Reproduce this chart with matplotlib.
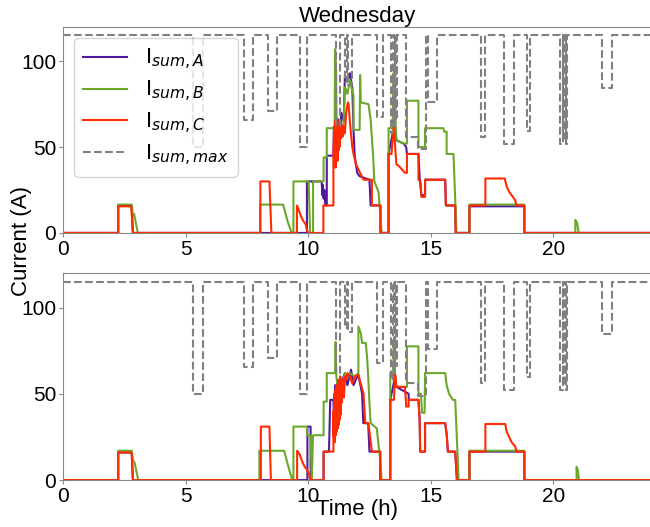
import matplotlib
matplotlib.use('Agg')
import matplotlib.pyplot as plt

plt.rcParams['font.family'] = ['Liberation Sans', 'DejaVu Sans']
FONT = 16

# ── Data (time in h, current in A) ────────────────────────────────────────────
# top panel
top_a_t = [0, 2.25, 2.25, 2.8, 2.85, 9.95, 9.95, 10.55, 10.58, 10.6, 10.63, 10.66, 10.7, 10.76, 10.76,
           11.03, 11.05, 11.1, 11.15, 11.2, 11.25, 11.3, 11.35, 11.45, 11.5, 11.6, 11.7, 11.8, 11.85,
           11.9, 12.0, 12.1, 12.5, 12.55, 12.95, 12.95, 13.28, 13.28, 13.45, 13.55, 13.6, 13.9, 14.0,
           14.03, 14.5, 14.55, 14.62, 14.77, 14.77, 15.59, 15.62, 16.0, 16.02, 16.58, 16.58, 18.82,
           18.82, 24]
top_a_v = [0, 0, 16, 16, 0, 0, 30, 30, 22, 28, 20, 25, 16, 16, 45,
           45, 62, 55, 68, 50, 66, 55, 70, 65, 92, 88, 93, 85, 60,
           45, 35, 33, 31, 16, 16, 0, 0, 46, 58, 60, 54, 52, 50,
           46, 46, 32, 22, 22, 31, 31, 16, 16, 0, 0, 15.5, 15.5,
           0, 0]

top_b_t = [0, 2.25, 2.25, 2.8, 2.85, 2.9, 3.05, 8.04, 8.04, 8.98, 9.1, 9.2, 9.33, 9.4, 9.4, 10.02,
           10.08, 10.2, 10.2, 10.63, 10.63, 10.76, 10.76, 11.08, 11.1, 11.14, 11.16, 11.44, 11.5,
           11.6, 11.71, 11.78, 11.85, 11.85, 12.1, 12.12, 12.15, 12.46, 12.55, 12.65, 12.7, 12.87,
           13.0, 13.28, 13.28, 13.45, 13.47, 13.55, 13.6, 13.9, 14.03, 14.03, 14.5, 14.5, 14.77,
           14.77, 15.52, 15.55, 15.65, 15.65, 15.93, 16.05, 16.58, 16.58, 18.82, 18.82, 20.9, 20.9,
           20.97, 21.04, 24]
top_b_v = [0, 0, 16.5, 16.5, 10, 11, 0, 0, 16.5, 16.5, 10, 5, 0, 0, 30, 30,
           0, 0, 30, 30, 44, 44, 61, 61, 107, 95, 61, 61, 85,
           81, 89, 84, 80, 60, 60, 92, 76, 75, 66, 45, 30, 24,
           0, 0, 61, 61, 93, 70, 54, 52, 52, 77, 77, 50, 50,
           61, 61, 59, 59, 46, 46, 0, 0, 16.5, 16.5, 0, 0, 7.5,
           6, 0, 0]

top_c_t = [0, 2.25, 2.25, 2.78, 2.85, 8.05, 8.05, 8.42, 8.5, 9.54, 9.54, 9.6, 9.7, 9.8, 9.9, 9.95,
           10.0, 10.62, 10.62, 11.03, 11.03, 11.06, 11.08, 11.1, 11.12, 11.14, 11.16, 11.18, 11.2,
           11.22, 11.24, 11.26, 11.28, 11.3, 11.33, 11.36, 11.4, 11.45, 11.5, 11.55, 11.62, 11.65,
           11.7, 11.8, 11.85, 11.95, 12.05, 12.26, 12.6, 12.6, 12.95, 12.95, 13.28, 13.28, 13.4,
           13.45, 13.5, 13.55, 13.6, 13.7, 13.95, 14.03, 14.03, 14.5, 14.5, 14.58, 14.62, 14.77,
           14.77, 15.59, 15.62, 16.0, 16.02, 16.58, 16.58, 17.23, 17.23, 18.02, 18.1, 18.2, 18.3,
           18.45, 18.5, 18.82, 18.82, 24]
top_c_v = [0, 0, 15.5, 15.5, 0, 0, 30, 30, 0, 0, 16, 14, 10, 7, 5, 2,
           0, 0, 16, 16, 45, 62, 40, 65, 38, 60, 45, 66, 42,
           63, 48, 65, 50, 62, 55, 63, 56, 62, 58, 70, 76, 75,
           65, 50, 46, 40, 37, 31, 31, 16, 16, 0, 0, 46, 46,
           55, 62, 50, 40, 39, 35, 35, 46, 46, 31, 30, 21, 21,
           31, 31, 16, 16, 0, 0, 16, 16, 31.7, 31.7, 27, 24, 22,
           19, 16, 16, 0, 0]

# bottom panel
bot_a_t = [0, 2.25, 2.25, 2.8, 2.85, 9.97, 9.97, 10.1, 10.1, 10.63, 10.63, 10.85, 10.9, 11.03,
           11.05, 11.1, 11.15, 11.2, 11.25, 11.3, 11.35, 11.4, 11.5, 11.6, 11.75, 11.85, 12.0, 12.05,
           12.2, 12.25, 12.45, 12.5, 12.94, 12.94, 13.35, 13.35, 13.55, 13.6, 14.1, 14.1, 14.5,
           14.55, 14.57, 14.77, 14.77, 15.59, 15.65, 15.7, 16.0, 16.07, 16.58, 16.58, 18.82, 18.82, 24]
bot_a_v = [0, 0, 16, 16, 0, 0, 31, 31, 0, 0, 16.5, 16.5, 46.5, 46.5,
           35, 55, 40, 58, 45, 60, 48, 58, 62, 55, 64, 55, 60, 61,
           50, 33, 33, 16.5, 16.5, 0, 0, 46.5, 60, 54, 50, 46.5, 46.5,
           35, 16.5, 16.5, 33, 33, 27, 16.5, 16.5, 0, 0, 16.5, 16.5, 0, 0]

bot_b_t = [0, 2.25, 2.25, 2.8, 2.85, 2.92, 3.07, 8.01, 8.01, 9.02, 9.15, 9.25, 9.36, 9.4, 9.4,
           9.95, 9.95, 10.1, 10.15, 10.2, 10.63, 10.63, 10.76, 10.76, 11.1, 11.12, 11.15, 11.2,
           11.3, 11.4, 11.5, 11.6, 11.71, 11.9, 12.05, 12.05, 12.15, 12.2, 12.35, 12.4, 12.45, 12.5,
           12.55, 12.8, 12.95, 13.0, 13.35, 13.35, 13.47, 13.49, 13.55, 13.6, 14.03, 14.03, 14.5,
           14.5, 14.6, 14.65, 14.75, 14.77, 15.59, 15.65, 15.75, 15.9, 16.0, 16.14, 16.58, 16.58,
           18.82, 18.82, 20.95, 20.95, 21.0, 21.05, 24]
bot_b_v = [0, 0, 17, 17, 11.6, 10, 0, 0, 17, 17, 10, 5, 0, 0, 31,
           31, 26, 26, 0, 26, 26, 45.5, 45.5, 62, 62, 80, 60, 55,
           58, 54, 62, 60, 62, 60, 62, 89, 85, 79.5, 79.5, 72, 60, 45,
           33, 30, 10, 0, 0, 62, 62, 79.5, 60, 54, 54, 77.5, 77.5,
           50, 50, 39, 39, 62, 62, 55, 50, 46.5, 46.5, 0, 0, 17,
           17, 0, 0, 7.7, 6, 0, 0]

bot_c_t = [0, 2.25, 2.25, 2.8, 2.85, 8.07, 8.07, 8.42, 8.48, 9.55, 9.55, 9.65, 9.75, 9.85, 9.95,
           10.05, 10.1, 10.63, 10.63, 11.03, 11.03, 11.05, 11.07, 11.09, 11.11, 11.13, 11.15, 11.17,
           11.19, 11.21, 11.23, 11.25, 11.27, 11.29, 11.31, 11.33, 11.35, 11.38, 11.42, 11.46, 11.5,
           11.55, 11.6, 11.7, 11.8, 11.9, 12.05, 12.26, 12.33, 12.46, 12.6, 12.94, 12.94, 13.35,
           13.35, 13.5, 13.55, 13.6, 13.95, 14.0, 14.1, 14.1, 14.5, 14.55, 14.57, 14.77, 14.77,
           15.59, 15.65, 15.7, 16.0, 16.07, 16.58, 16.58, 17.23, 17.23, 18.04, 18.1, 18.2, 18.3,
           18.45, 18.5, 18.82, 18.82, 24]
bot_c_v = [0, 0, 16, 16, 0, 0, 31, 31, 0, 0, 17, 15, 11, 8, 6,
           3, 0, 0, 16.5, 16.5, 40, 25, 50, 22, 52, 26, 55, 28,
           50, 30, 58, 32, 55, 35, 60, 38, 56, 45, 58, 48, 60,
           58, 62, 60, 56, 60, 61, 50, 33, 33, 16.5, 16.5, 0, 0,
           46.5, 46.5, 61, 54, 54, 42.6, 42.6, 46.5, 46.5, 35, 16.5, 16.5, 33,
           33, 27, 16.5, 16.5, 0, 0, 16.5, 16.5, 32.5, 32.5, 28, 25, 22,
           19.4, 16.5, 16.5, 0, 0]

# maximum allowed current (step, holds until next time)
max_t = [0, 5.32, 5.73, 7.39, 7.74, 8.35, 8.72, 9.67, 9.97, 11.14, 11.28, 11.51, 11.6, 11.62,
         11.78, 12.8, 13.07, 13.4, 13.47, 13.5, 13.56, 13.58, 13.62, 14.0, 14.5, 14.8, 14.9,
         15.25, 17.06, 17.2, 17.98, 18.38, 18.93, 19.07, 20.29, 20.38, 20.4, 20.48, 20.5, 20.56,
         21.99, 22.4, 24]
max_v = [115, 50, 115, 65.7, 115, 71, 115, 50, 115, 62, 115, 88, 115, 86,
         115, 67.6, 115, 58, 115, 62, 115, 66, 115, 56, 49, 115, 76,
         115, 56, 115, 52, 115, 59.5, 115, 52, 115, 55, 115, 52, 115,
         84.5, 115, 115]

# ── Style ─────────────────────────────────────────────────────────────────────
col_a = '#5218a0'
col_b = '#6aa82a'
col_c = '#ff2a00'
col_max = '#808080'

fig = plt.figure(figsize=(6.5, 5.27), dpi=100)
ax1 = fig.add_axes([0.097, 0.558, 0.905, 0.391])
ax2 = fig.add_axes([0.097, 0.089, 0.905, 0.393])

panels = [
    (ax1, top_a_t, top_a_v, top_b_t, top_b_v, top_c_t, top_c_v),
    (ax2, bot_a_t, bot_a_v, bot_b_t, bot_b_v, bot_c_t, bot_c_v),
]

for ax, at, av, bt, bv, ct, cv in panels:
    ax.plot(at, av, color=col_a, lw=1.5, label='I$_{sum,A}$')
    ax.plot(bt, bv, color=col_b, lw=1.5, label='I$_{sum,B}$')
    ax.plot(ct, cv, color=col_c, lw=1.5, label='I$_{sum,C}$')
    ax.plot(max_t, max_v, color=col_max, lw=1.5, ls='--', drawstyle='steps-post',
            label='I$_{sum,max}$')
    ax.set_xlim(0, 24)
    ax.set_ylim(0, 120)
    ax.set_yticks([0, 50, 100])
    ax.set_xticks([0, 5, 10, 15, 20])
    ax.tick_params(labelsize=FONT - 1, color='#888888', length=3, pad=2)
    for s in ax.spines.values():
        s.set_color('#888888')
    ax.spines['right'].set_visible(False)

ax1.set_title('Wednesday', fontsize=FONT, pad=3)
ax1.legend(loc='upper left', fontsize=FONT, framealpha=0.8, labelspacing=0.3)
ax2.set_xlabel('Time (h)', fontsize=FONT, va='center')
ax2.xaxis.set_label_coords(0.5, -0.14)
fig.text(0.033, 0.543, 'Current (A)', rotation=90, fontsize=FONT, ha='center', va='center')

plt.savefig('out.png', dpi=100)
